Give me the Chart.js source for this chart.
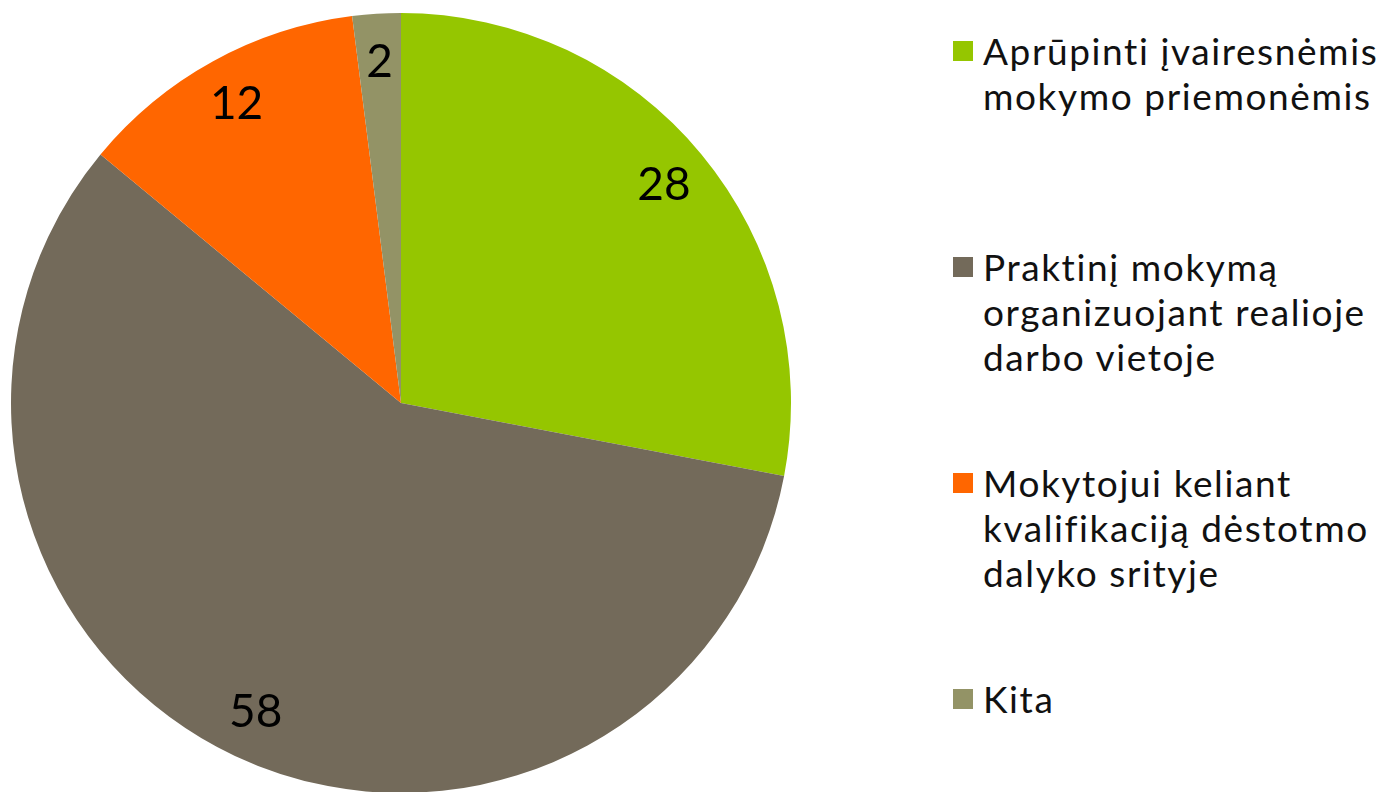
<!DOCTYPE html>
<html>
<head>
<meta charset="utf-8">
<script src="https://cdn.jsdelivr.net/npm/chart.js@4"></script>
<style>
  body { margin: 0; background: #fff; overflow: hidden; width: 1388px; height: 792px; position: relative; }
  #pieBox { position: absolute; left: 0; top: 0; width: 802px; height: 806px; }
  #legend { position: absolute; left: 953px; top: 28px; font-family: 'Lato', sans-serif; font-size: 37px; letter-spacing: 1.6px; color: #111; }
  .item { height: 216px; display: flex; align-items: flex-start; }
  .box { width: 20px; height: 20px; margin-top: 13px; margin-right: 10px; flex: none; }
  .txt { line-height: 45px; white-space: nowrap; }
</style>
</head>
<body>
<div id="pieBox"><canvas id="pieChart"></canvas></div>
<div id="legend"></div>
<script>
const labels = [
  ['Aprūpinti įvairesnėmis', 'mokymo priemonėmis'],
  ['Praktinį mokymą', 'organizuojant realioje', 'darbo vietoje'],
  ['Mokytojui keliant', 'kvalifikaciją dėstotmo', 'dalyko srityje'],
  ['Kita']
];
const values = [28, 58, 12, 2];
const colors = ['#95c600', '#736a5a', '#ff6600', '#939366'];

const sliceLabels = {
  id: 'sliceLabels',
  afterDatasetsDraw(chart) {
    const ctx = chart.ctx;
    const meta = chart.getDatasetMeta(0);
    ctx.save();
    ctx.font = '46px Lato, sans-serif';
    ctx.fillStyle = '#000';
    ctx.textAlign = 'center';
    ctx.textBaseline = 'middle';
    meta.data.forEach((arc, i) => {
      const mid = (arc.startAngle + arc.endAngle) / 2;
      const r = arc.outerRadius * 0.875;
      ctx.fillText(String(values[i]), arc.x + Math.cos(mid) * r, arc.y + Math.sin(mid) * r);
    });
    ctx.restore();
  }
};

function buildLegend() {
  const legend = document.getElementById('legend');
  labels.forEach((lines, i) => {
    const item = document.createElement('div');
    item.className = 'item';
    item.innerHTML = `<span class="box" style="background:${colors[i]}"></span><span class="txt">${lines.join('<br>')}</span>`;
    legend.appendChild(item);
  });
}

function initChart() {
  const ctx = document.getElementById('pieChart').getContext('2d');
  new Chart(ctx, {
    type: 'pie',
    data: {
      labels: labels.map(l => l.join(' ')),
      datasets: [{
        data: values,
        backgroundColor: colors,
        borderWidth: 0
      }]
    },
    options: {
      responsive: true,
      maintainAspectRatio: false,
      animation: false,
      radius: 390,
      layout: { padding: 0 },
      plugins: {
        legend: { display: false },
        tooltip: { enabled: false }
      }
    },
    plugins: [sliceLabels]
  });
}

buildLegend();
initChart();
</script>
</body>
</html>
